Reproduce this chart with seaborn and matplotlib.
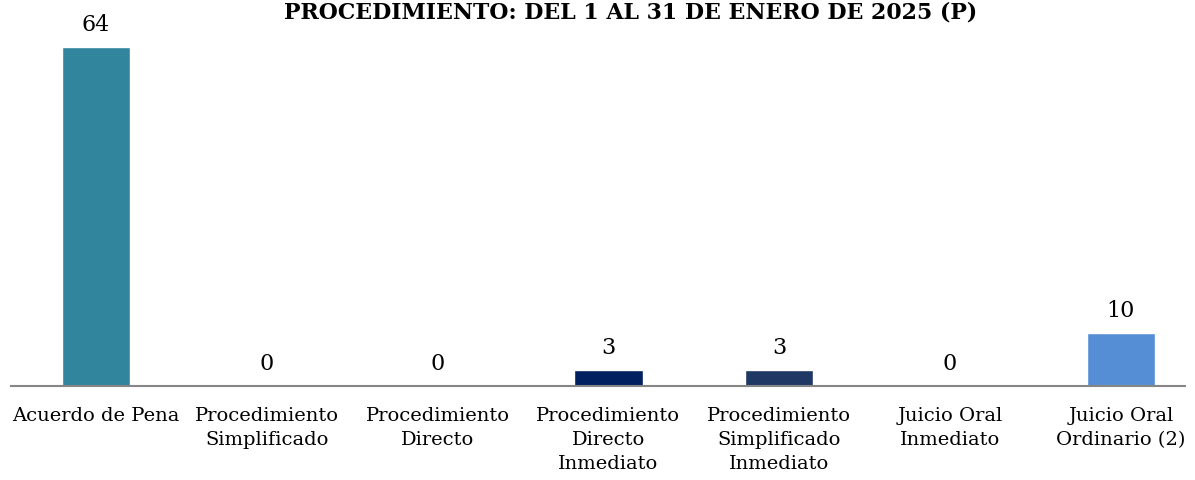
import matplotlib
matplotlib.use("Agg")
import matplotlib.pyplot as plt
import seaborn as sns
import pandas as pd

categories = ["Acuerdo de Pena", "Procedimiento\nSimplificado", "Procedimiento\nDirecto",
              "Procedimiento\nDirecto\nInmediato", "Procedimiento\nSimplificado\nInmediato",
              "Juicio Oral\nInmediato", "Juicio Oral\nOrdinario (2)"]
values = [64, 0, 0, 3, 3, 0, 10]
colors = ["#31859C", "#4F81BD", "#C0504D", "#002060", "#1F3864", "#9BBB59", "#558ED5"]
title = "PROCEDIMIENTO: DEL 1 AL 31 DE ENERO DE 2025 (P)"

sns.set_theme(style="white")
plt.rcParams['font.family'] = ['DejaVu Serif']

df = pd.DataFrame({"cat": categories, "val": values})
fig = plt.figure(figsize=(11.95, 4.8), dpi=100)
left_px, right_px, base_px, top_px = 10.6, 1185, 386, 20
ax = fig.add_axes([left_px/1195, 1-base_px/480, (right_px-left_px)/1195, (base_px-top_px)/480])
sns.barplot(data=df, x="cat", y="val", hue="cat", palette=colors, width=0.4,
            legend=False, ax=ax, saturation=1)
ax.set_ylim(0, 64*(base_px-top_px)/339)
ax.set_xlim(-0.5, -0.5 + (right_px-left_px)/170.8)
ax.set_xlabel("")
ax.set_ylabel("")
ax.set_yticks([])
for s in ["top", "right", "left"]:
    ax.spines[s].set_visible(False)
ax.spines["bottom"].set_color("#868686")
ax.spines["bottom"].set_linewidth(1.5)
ax.tick_params(axis="x", length=0, pad=15, labelsize=14, labelcolor="#000000")
for lab in ax.get_xticklabels():
    lab.set_linespacing(1.45)
for i, v in enumerate(values):
    ax.annotate(str(v), (i, v), xytext=(0, 8), textcoords="offset points",
                ha="center", va="bottom", fontsize=16, color="#000000")
fig.text(631/1195, 1-18/480, title, ha="center", va="baseline", fontsize=15.8,
         fontweight="bold", color="#000000")
fig.savefig("out.png", dpi=100)
